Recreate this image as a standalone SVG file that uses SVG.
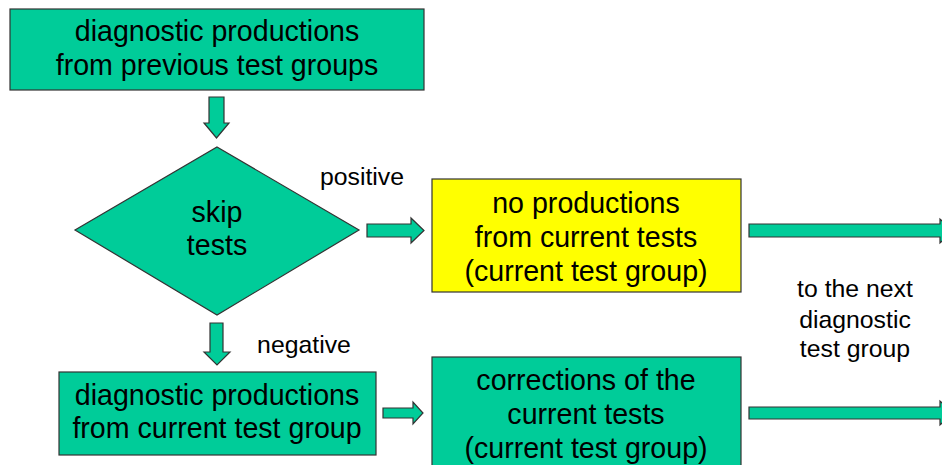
<svg xmlns="http://www.w3.org/2000/svg" width="942" height="465" viewBox="0 0 942 465">
<style>
.box{fill:#00CC99;stroke:#333;stroke-width:1.2}
.yel{fill:#FFFF00;stroke:#333;stroke-width:1.2}
.arr{fill:#00CC99;stroke:#333;stroke-width:1.2;stroke-linejoin:miter}
text{font-family:"Liberation Sans",Arial,sans-serif;fill:#000;text-anchor:middle}
.t{font-size:28.6px}
.l{font-size:24.8px}
</style>
<rect width="942" height="465" fill="#fff"/>
<g id="prev">
<rect class="box" x="10" y="9" width="414" height="81"/>
<text class="t" x="217" y="41">diagnostic productions</text>
<text class="t" x="217" y="75">from previous test groups</text>
</g>
<g id="skip">
<polygon class="box" points="217,147 359,230 217,315 75,230"/>
<text class="t" x="217" y="222">skip</text>
<text class="t" x="217" y="255">tests</text>
</g>
<g id="noprod">
<rect class="yel" x="432" y="179" width="309" height="113"/>
<text class="t" x="586" y="213">no productions</text>
<text class="t" x="586" y="247">from current tests</text>
<text class="t" x="586" y="281">(current test group)</text>
</g>
<g id="curprod">
<rect class="box" x="59" y="372" width="317" height="83"/>
<text class="t" x="217" y="405">diagnostic productions</text>
<text class="t" x="217" y="438">from current test group</text>
</g>
<g id="corr">
<rect class="box" x="432" y="357" width="309" height="120"/>
<text class="t" x="586" y="390">corrections of the</text>
<text class="t" x="586" y="424">current tests</text>
<text class="t" x="586" y="458">(current test group)</text>
</g>
<g id="labels">
<text class="l" x="362" y="185">positive</text>
<text class="l" x="304" y="353">negative</text>
<text class="l" x="855" y="297">to the next</text>
<text class="l" x="855" y="328">diagnostic</text>
<text class="l" x="855" y="357">test group</text>
</g>
<g id="connectors">
<polygon class="arr" points="209,97 224,97 224,123 229,123 216.5,138 204,123 209,123"/>
<polygon class="arr" points="210,323 223,323 223,352 230,352 217,365 204,352 210,352"/>
<polygon class="arr" points="367,224 411,224 411,218 424,230.5 411,243 411,237 367,237"/>
<polygon class="arr" points="383,408 413,408 413,402 423,413 413,424 413,418 383,418"/>
<polygon class="arr" points="749,224 940,224 940,219 953,231 940,243 940,237 749,237"/>
<polygon class="arr" points="749,407 940,407 940,401 953,413 940,425 940,419 749,419"/>
</g>
</svg>
